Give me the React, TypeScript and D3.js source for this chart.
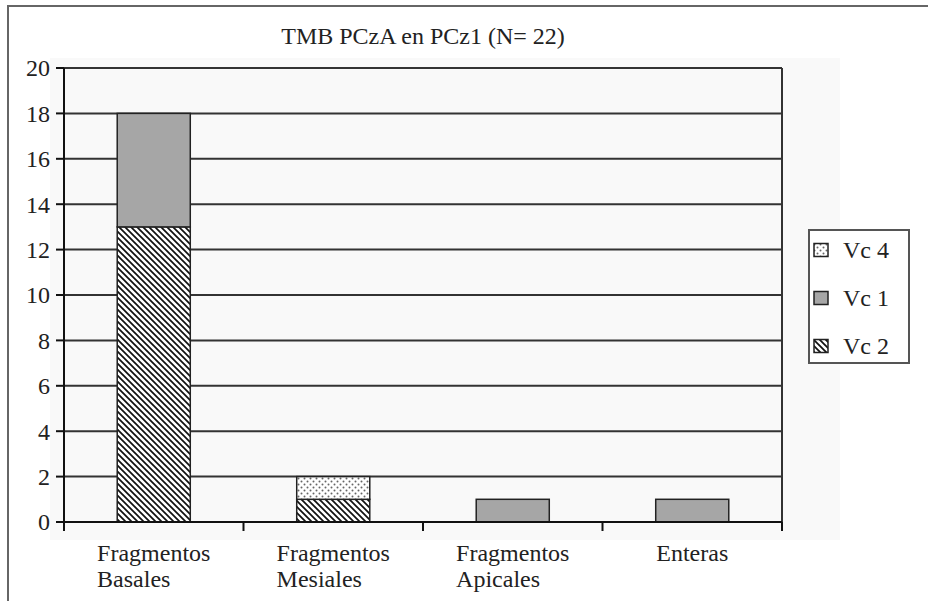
import React from 'react';
import * as d3 from 'd3';

const title = 'TMB PCzA en PCz1 (N= 22)';
const categoryIds = ['basales', 'mesiales', 'apicales', 'enteras'];
const categoryLines = [['Fragmentos', 'Basales'], ['Fragmentos', 'Mesiales'], ['Fragmentos', 'Apicales'], ['Enteras']];
const vc2 = [13, 1, 0, 0];
const vc1 = [5, 0, 1, 1];
const vc4 = [0, 1, 0, 0];
const stackKeys = ['vc2', 'vc1', 'vc4'];
const legendKeys = ['vc4', 'vc1', 'vc2'];
const legendLabels: Record<string, string> = { vc4: 'Vc 4', vc1: 'Vc 1', vc2: 'Vc 2' };
const yTicks = [0, 2, 4, 6, 8, 10, 12, 14, 16, 18, 20];

const FONT = 'Liberation Serif';
const FS = 24;

function measure(s: string): number {
  try {
    const c = document.createElement('canvas').getContext('2d')!;
    c.font = `${FS}px "${FONT}"`;
    return c.measureText(s).width;
  } catch {
    return s.length * FS * 0.47;
  }
}

export default function App() {
  const W = 928, H = 601;
  const left = 64, right = 782, top = 68, bottom = 522;
  const x = d3.scaleBand<string>().domain(categoryIds).range([left, right]).paddingInner(0.593).paddingOuter(0.2965);
  const y = d3.scaleLinear().domain([0, 20]).range([bottom, top]);
  const rows = categoryIds.map((id, i) => ({ id, vc2: vc2[i], vc1: vc1[i], vc4: vc4[i] }));
  const stacked = d3.stack<any>().keys(stackKeys)(rows);
  const fills: Record<string, string> = { vc2: 'url(#hatch)', vc1: '#a6a6a6', vc4: 'url(#dots)' };
  const bounds = d3.range(categoryIds.length + 1).map(i => left + i * x.step());
  const textProps = { fontFamily: FONT, fontSize: FS, fill: '#222' };

  return (
    <svg width={W} height={H} style={{ position: 'absolute', left: 0, top: 0 }}>
      <defs>
        <pattern id="hatch" patternUnits="userSpaceOnUse" width={6} height={6}>
          <rect width={6} height={6} fill="#fff" />
          <path d="M-1,-1 L7,7 M-1,5 L1,7 M5,-1 L7,1" stroke="#111" strokeWidth={1.7} />
        </pattern>
        <pattern id="dots" patternUnits="userSpaceOnUse" width={6} height={6}>
          <rect width={6} height={6} fill="#fff" />
          <circle cx={1.5} cy={1.5} r={1} fill="#666" />
          <circle cx={4.5} cy={4.5} r={1} fill="#666" />
        </pattern>
      </defs>
      <rect width={W} height={H} fill="#fff" />
      <rect x={8} y={6} width={960} height={640} fill="none" stroke="#666" strokeWidth={2} />
      <rect x={50} y={58} width={790} height={482} fill="#f9f9f9" />

      <text x={423} y={44} textAnchor="middle" {...textProps}>{title}</text>

      {yTicks.map(t => (
        <line key={'g' + t} x1={left} x2={right} y1={y(t)} y2={y(t)} stroke="#333" strokeWidth={2} />
      ))}
      <line x1={right} x2={right} y1={top} y2={bottom} stroke="#333" strokeWidth={2} />

      {stacked.map(s => (
        <g key={s.key}>
          {s.filter(d => d[1] - d[0] > 0).map(d => (
            <rect key={d.data.id} x={x(d.data.id)} width={x.bandwidth()} y={y(d[1])} height={y(d[0]) - y(d[1])}
              fill={fills[s.key]} stroke="#222" strokeWidth={1.5} />
          ))}
        </g>
      ))}

      <line x1={left} x2={left} y1={top} y2={bottom + 9} stroke="#111" strokeWidth={2} />
      {yTicks.map(t => (
        <line key={'t' + t} x1={left - 8} x2={left} y1={y(t)} y2={y(t)} stroke="#111" strokeWidth={2} />
      ))}
      {yTicks.map(t => (
        <text key={'l' + t} x={50} y={y(t)} dy="0.35em" textAnchor="end" {...textProps}>{t}</text>
      ))}

      <line x1={left} x2={right} y1={bottom} y2={bottom} stroke="#111" strokeWidth={2} />
      {bounds.map(b => (
        <line key={'b' + b} x1={b} x2={b} y1={bottom} y2={bottom + 9} stroke="#111" strokeWidth={2} />
      ))}

      {categoryIds.map((id, i) => {
        const cx = x(id)! + x.bandwidth() / 2;
        const lines = categoryLines[i];
        const maxW = Math.max(...lines.map(measure));
        return (
          <text key={id} {...textProps}>
            {lines.map((ln, j) => (
              <tspan key={j} x={cx - maxW / 2} y={561 + j * 26}>{ln}</tspan>
            ))}
          </text>
        );
      })}

      <g>
        <rect x={809} y={230} width={100} height={133} fill="#fff" stroke="#555" strokeWidth={2} />
        {legendKeys.map((k, i) => {
          const cy = 250 + i * 48;
          return (
            <g key={k}>
              <rect x={814} y={cy - 6.5} width={14} height={13} fill={fills[k]} stroke="#222" strokeWidth={1.5} />
              <text x={843} y={cy} dy="0.35em" {...textProps}>{legendLabels[k]}</text>
            </g>
          );
        })}
      </g>
    </svg>
  );
}
